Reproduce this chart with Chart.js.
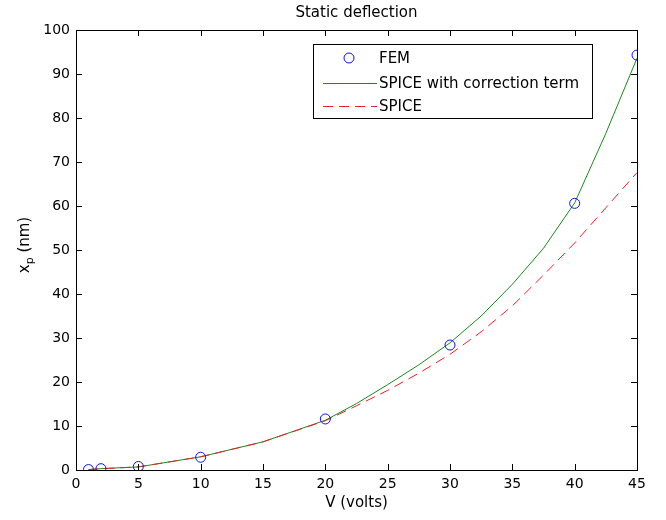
<!DOCTYPE html>
<html>
<head>
<meta charset="utf-8">
<script src="https://cdn.jsdelivr.net/npm/chart.js@4"></script>
<style>
  html, body { margin: 0; padding: 0; background: #fff; }
  #wrap { width: 666px; height: 520px; }
</style>
</head>
<body>
<div id="wrap"><canvas id="deflChart" width="666" height="520"></canvas></div>
<script>
// values
const volts = [1, 2, 5, 10, 15, 20, 22.5, 25, 27.5, 30, 32.5, 35, 37.5, 40, 42.5, 45];
const spiceCorr = [0.1, 0.3, 0.7, 3.0, 6.4, 11.3, 15.1, 19.4, 23.9, 28.9, 35.0, 42.2, 50.4, 60.7, 76.5, 93.6];
const spicePlain = [0.1, 0.3, 0.7, 3.0, 6.4, 11.2, 14.6, 18.1, 22.0, 26.3, 31.4, 37.3, 44.3, 51.6, 59.6, 67.6];
const femVolts = [1, 2, 5, 10, 20, 30, 40, 45];
const femDefl = [0.1, 0.3, 0.8, 2.9, 11.6, 28.4, 60.6, 94.3];
const xTicks = [0, 5, 10, 15, 20, 25, 30, 35, 40, 45];
const yTicks = [0, 10, 20, 30, 40, 50, 60, 70, 80, 90, 100];

const FONT = "'DejaVu Sans', sans-serif";
const ctx = document.getElementById("deflChart").getContext("2d");

const pts = (xs, ys) => xs.map((x, i) => ({ x: x, y: ys[i] }));

// frame, inward ticks, title, y label and legend, MATLAB style
const matlabDecor = {
  id: "matlabDecor",
  afterDraw(chart) {
    const c = chart.ctx;
    const a = chart.chartArea;
    const xs = chart.scales.x, ys = chart.scales.y;
    c.save();
    c.strokeStyle = "#000";
    c.lineWidth = 1;
    c.strokeRect(Math.round(a.left) + 0.5, Math.round(a.top) + 0.5,
      Math.round(a.right - a.left), Math.round(a.bottom - a.top));
    c.beginPath();
    xTicks.forEach(v => {
      const px = Math.round(xs.getPixelForValue(v)) + 0.5;
      c.moveTo(px, a.bottom); c.lineTo(px, a.bottom - 6);
      c.moveTo(px, a.top); c.lineTo(px, a.top + 6);
    });
    yTicks.forEach(v => {
      const py = Math.round(ys.getPixelForValue(v)) + 0.5;
      c.moveTo(a.left, py); c.lineTo(a.left + 6, py);
      c.moveTo(a.right, py); c.lineTo(a.right - 6, py);
    });
    c.stroke();

    // title
    c.fillStyle = "#000";
    c.font = "15px " + FONT;
    c.textAlign = "center";
    c.textBaseline = "middle";
    c.fillText("Static deflection", (a.left + a.right) / 2, 13);

    // y label with subscript
    c.save();
    c.translate(24, (a.top + a.bottom) / 2 - 5);
    c.rotate(-Math.PI / 2);
    c.textAlign = "left";
    c.textBaseline = "alphabetic";
    c.font = "15px " + FONT;
    const wx = c.measureText("x").width;
    c.font = "11px " + FONT;
    const wp = c.measureText("p").width;
    c.font = "15px " + FONT;
    const wr = c.measureText(" (nm)").width;
    let x0 = -(wx + wp + wr) / 2;
    c.fillText("x", x0, 5);
    c.font = "11px " + FONT;
    c.fillText("p", x0 + wx, 9);
    c.font = "15px " + FONT;
    c.fillText(" (nm)", x0 + wx + wp, 5);
    c.restore();

    // legend box
    const bx = 313, by = 44, bw = 279, bh = 74;
    c.fillStyle = "#fff";
    c.fillRect(bx, by, bw, bh);
    c.strokeStyle = "#000";
    c.strokeRect(bx + 0.5, by + 0.5, bw, bh);
    const rows = [58, 83, 106];
    chart.data.datasets.forEach((ds, i) => {
      const ry = rows[i];
      c.strokeStyle = ds.borderColor;
      c.lineWidth = 1;
      if (ds.showLine === false) {
        c.beginPath();
        c.arc(349, ry, 5, 0, Math.PI * 2);
        c.stroke();
      } else {
        c.setLineDash(ds.borderDash || []);
        c.beginPath();
        c.moveTo(323, ry + 0.5); c.lineTo(377, ry + 0.5);
        c.stroke();
        c.setLineDash([]);
      }
      c.fillStyle = "#000";
      c.font = "15px " + FONT;
      c.textAlign = "left";
      c.textBaseline = "middle";
      c.fillText(ds.label, 379, ry + 1);
    });
    c.restore();
  }
};

new Chart(ctx, {
  type: "scatter",
  data: {
    datasets: [
      {
        label: "FEM",
        data: pts(femVolts, femDefl),
        showLine: false,
        borderColor: "#1010e0",
        backgroundColor: "rgba(0,0,0,0)",
        pointRadius: 5,
        pointBorderWidth: 1,
        order: 0
      },
      {
        label: "SPICE with correction term",
        data: pts(volts, spiceCorr),
        showLine: true,
        borderColor: "#1a8a1a",
        borderWidth: 1,
        pointRadius: 0,
        tension: 0,
        order: 2
      },
      {
        label: "SPICE",
        data: pts(volts, spicePlain),
        showLine: true,
        borderColor: "#e8202a",
        borderWidth: 1,
        borderDash: [10, 6],
        pointRadius: 0,
        tension: 0,
        order: 1
      }
    ]
  },
  options: {
    responsive: false,
    animation: false,
    layout: { padding: { top: 30, right: 29, left: 0, bottom: 0 } },
    plugins: {
      legend: { display: false },
      title: { display: false },
      tooltip: { enabled: false }
    },
    scales: {
      x: {
        type: "linear",
        min: 0,
        max: 45,
        afterFit: s => { s.height = 50; },
        afterBuildTicks: s => { s.ticks = xTicks.map(v => ({ value: v })); },
        grid: { display: false, drawTicks: false },
        border: { display: false },
        ticks: { color: "#000", padding: 6, maxRotation: 0, font: { family: FONT, size: 14 } },
        title: {
          display: true,
          text: "V (volts)",
          color: "#000",
          padding: { top: 0, bottom: 8 },
          font: { family: FONT, size: 15 }
        }
      },
      y: {
        type: "linear",
        min: 0,
        max: 100,
        afterFit: s => { s.width = 76; },
        afterBuildTicks: s => { s.ticks = yTicks.map(v => ({ value: v })); },
        grid: { display: false, drawTicks: false },
        border: { display: false },
        ticks: { color: "#000", padding: 6, font: { family: FONT, size: 14 } }
      }
    }
  },
  plugins: [matlabDecor]
});
</script>
</body>
</html>
